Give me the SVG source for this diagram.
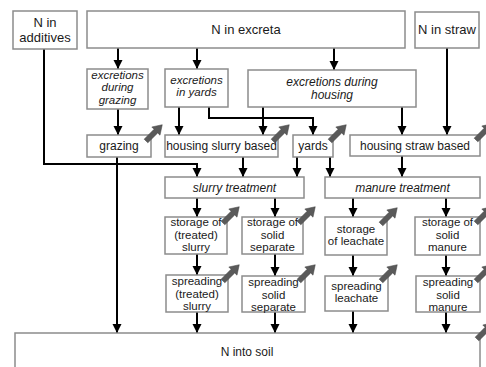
<svg xmlns="http://www.w3.org/2000/svg" width="486" height="367" viewBox="0 0 486 367">
<style>
.box{fill:#fff;stroke:#8c8c8c;stroke-width:1.5}
text{font-family:"Liberation Sans",Arial,sans-serif;font-size:12px;fill:#1a1a1a;text-anchor:middle}
.big{font-size:13px}
.ml{font-size:11.5px}
.it{font-style:italic}
.con{fill:none;stroke:#000;stroke-width:2;marker-end:url(#ah)}
.em{fill:#5a5a5a;stroke:#444;stroke-width:0.5}
</style>
<defs>
<marker id="ah" markerUnits="userSpaceOnUse" markerWidth="10" markerHeight="10" refX="9" refY="4.5" orient="auto">
<path d="M0,0 L9,4.5 L0,9 z" fill="#000"/>
</marker>
<path id="emis" d="M0,-2.6 L14,-2.6 L14,-5.8 L23,0 L14,5.8 L14,2.6 L0,2.6 Z"/>
</defs>
<rect width="486" height="367" fill="#fff"/>

<g id="connectors">
<line class="con" x1="118" y1="48" x2="118" y2="69"/>
<line class="con" x1="197" y1="48" x2="197" y2="69"/>
<line class="con" x1="334" y1="48" x2="334" y2="70"/>
<line class="con" x1="447" y1="48" x2="447" y2="135"/>
<path class="con" d="M44,49 V164 H197 V177"/>
<line class="con" x1="118" y1="109" x2="118" y2="135"/>
<line class="con" x1="179" y1="107" x2="179" y2="135"/>
<path class="con" d="M209,107 V118 H313 V135"/>
<line class="con" x1="263" y1="107" x2="263" y2="135"/>
<line class="con" x1="402" y1="107" x2="402" y2="135"/>
<line class="con" x1="117" y1="157" x2="117" y2="333"/>
<line class="con" x1="243" y1="157" x2="243" y2="177"/>
<line class="con" x1="297" y1="157" x2="297" y2="177"/>
<line class="con" x1="330" y1="157" x2="330" y2="177"/>
<line class="con" x1="402" y1="156" x2="402" y2="177"/>
<line class="con" x1="197" y1="198" x2="197" y2="217"/>
<line class="con" x1="275" y1="198" x2="275" y2="217"/>
<line class="con" x1="353" y1="198" x2="353" y2="217"/>
<line class="con" x1="446" y1="198" x2="446" y2="217"/>
<line class="con" x1="197" y1="254" x2="197" y2="275"/>
<line class="con" x1="275" y1="254" x2="275" y2="276"/>
<line class="con" x1="353" y1="255" x2="353" y2="276"/>
<line class="con" x1="446" y1="255" x2="446" y2="276"/>
<line class="con" x1="197" y1="312" x2="197" y2="333"/>
<line class="con" x1="275" y1="312" x2="275" y2="333"/>
<line class="con" x1="353" y1="311" x2="353" y2="333"/>
<line class="con" x1="446" y1="312" x2="446" y2="333"/>
</g>

<g id="n-additives"><rect class="box" x="13" y="11" width="64" height="38"/><text class="big" x="45" y="27">N in</text><text class="big" x="45" y="42">additives</text></g>
<g id="n-excreta"><rect class="box" x="87" y="11" width="318" height="37"/><text class="big" x="246" y="34">N in excreta</text></g>
<g id="n-straw"><rect class="box" x="415" y="12" width="64" height="36"/><text class="big" x="447" y="34">N in straw</text></g>

<g id="excr-grazing"><rect class="box" x="87" y="69" width="61" height="40"/><text class="it ml" x="117.5" y="78.5">excretions</text><text class="it ml" x="117.5" y="91">during</text><text class="it ml" x="117.5" y="103.5">grazing</text></g>
<g id="excr-yards"><rect class="box" x="165" y="69" width="63" height="38"/><text class="it ml" x="196.5" y="83.5">excretions</text><text class="it ml" x="196.5" y="96">in yards</text></g>
<g id="excr-housing"><rect class="box" x="248" y="70" width="168" height="37"/><text class="it" x="332" y="86">excretions during</text><text class="it" x="332" y="99">housing</text></g>

<g id="grazing"><rect class="box" x="87" y="135" width="64" height="22"/><text x="119" y="150">grazing</text></g>
<g id="housing-slurry"><rect class="box" x="165" y="135" width="113" height="22"/><text x="221.5" y="150">housing slurry based</text></g>
<g id="yards"><rect class="box" x="293" y="135" width="40" height="22"/><text x="313" y="150">yards</text></g>
<g id="housing-straw"><rect class="box" x="350" y="135" width="130" height="21"/><text x="415" y="150">housing straw based</text></g>

<g id="slurry-treatment"><rect class="box" x="165" y="177" width="139" height="21"/><text class="it" x="234.5" y="192">slurry treatment</text></g>
<g id="manure-treatment"><rect class="box" x="325" y="177" width="155" height="21"/><text class="it" x="402.5" y="192">manure treatment</text></g>

<g id="storage-slurry"><rect class="box" x="165" y="217" width="62" height="37"/><text class="ml" x="196" y="226">storage of</text><text class="ml" x="196" y="238.5">(treated)</text><text class="ml" x="196" y="251">slurry</text></g>
<g id="storage-solid-separate"><rect class="box" x="242" y="217" width="61" height="37"/><text class="ml" x="272.5" y="226">storage of</text><text class="ml" x="272.5" y="238.5">solid</text><text class="ml" x="272.5" y="251">separate</text></g>
<g id="storage-leachate"><rect class="box" x="325" y="217" width="62" height="38"/><text class="ml" x="356" y="232.5">storage</text><text class="ml" x="356" y="245">of leachate</text></g>
<g id="storage-solid-manure"><rect class="box" x="415" y="217" width="65" height="38"/><text class="ml" x="447.5" y="226">storage of</text><text class="ml" x="447.5" y="238.5">solid</text><text class="ml" x="447.5" y="251">manure</text></g>

<g id="spreading-slurry"><rect class="box" x="166" y="275" width="62" height="37"/><text class="ml" x="197" y="285">spreading</text><text class="ml" x="197" y="297.5">(treated)</text><text class="ml" x="197" y="310">slurry</text></g>
<g id="spreading-solid-separate"><rect class="box" x="242" y="276" width="63" height="36"/><text class="ml" x="273.5" y="286">spreading</text><text class="ml" x="273.5" y="298.5">solid</text><text class="ml" x="273.5" y="311">separate</text></g>
<g id="spreading-leachate"><rect class="box" x="325" y="276" width="63" height="35"/><text class="ml" x="356.5" y="289.5">spreading</text><text class="ml" x="356.5" y="302">leachate</text></g>
<g id="spreading-solid-manure"><rect class="box" x="416" y="276" width="64" height="36"/><text class="ml" x="448" y="286">spreading</text><text class="ml" x="448" y="298.5">solid</text><text class="ml" x="448" y="311">manure</text></g>

<g id="n-soil"><rect class="box" x="15" y="333" width="465" height="42"/><text x="247" y="356">N into soil</text></g>

<g id="emissions">
<use href="#emis" class="em" transform="translate(146,141) rotate(-45)"/>
<use href="#emis" class="em" transform="translate(273,141) rotate(-45)"/>
<use href="#emis" class="em" transform="translate(330,141) rotate(-45)"/>
<use href="#emis" class="em" transform="translate(476,140) rotate(-45)"/>
<use href="#emis" class="em" transform="translate(223,223) rotate(-45)"/>
<use href="#emis" class="em" transform="translate(299,223) rotate(-45)"/>
<use href="#emis" class="em" transform="translate(381,224) rotate(-45)"/>
<use href="#emis" class="em" transform="translate(476,223) rotate(-45)"/>
<use href="#emis" class="em" transform="translate(223,281) rotate(-45)"/>
<use href="#emis" class="em" transform="translate(299,281) rotate(-45)"/>
<use href="#emis" class="em" transform="translate(381,281) rotate(-45)"/>
<use href="#emis" class="em" transform="translate(476,281) rotate(-45)"/>
<use href="#emis" class="em" transform="translate(477,339) rotate(-45)"/>
</g>
</svg>
